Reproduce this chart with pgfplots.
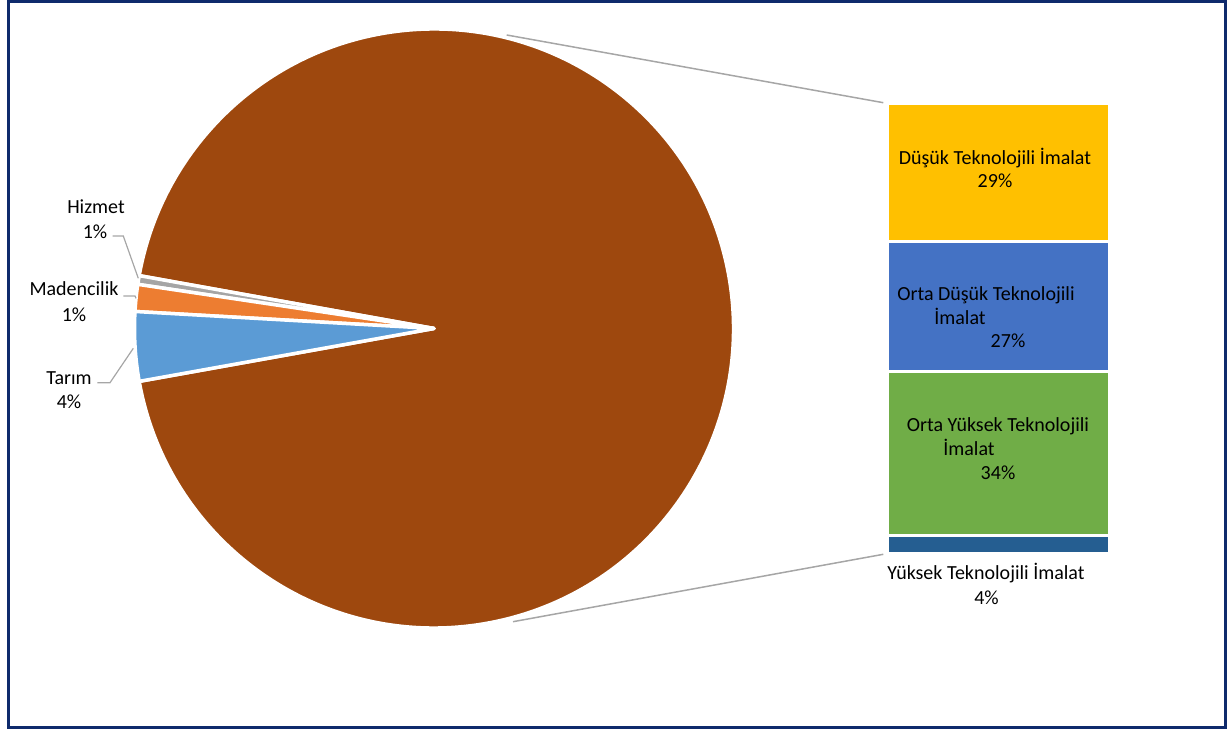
\documentclass[border=0pt]{standalone}
\usepackage{pgfplots}
\pgfplotsset{compat=1.18}
\usepackage{pgfplotstable}
\usepackage{fontspec}
\setmainfont{Carlito}
\definecolor{cImalat}{HTML}{9E480E}
\definecolor{cHizmet}{HTML}{A5A5A5}
\definecolor{cMaden}{HTML}{ED7D31}
\definecolor{cTarim}{HTML}{5B9BD5}
\definecolor{cDusuk}{HTML}{FFC000}
\definecolor{cOrtaDusuk}{HTML}{4472C4}
\definecolor{cOrtaYuksek}{HTML}{70AD47}
\definecolor{cYuksek}{HTML}{255E91}
\definecolor{cFrame}{HTML}{0E2A6C}
\definecolor{cLine}{HTML}{A6A6A6}

\pgfplotstableread{
sector value
Imalat 94.35
Hizmet 0.47
Madencilik 1.45
Tarim 3.73
}\piedata
\pgfplotstableread{
x Yuksek OrtaYuksek OrtaDusuk Dusuk
0.5 3.7 34.4 27.2 29.0
}\bardata

\newcommand\lblfont{\fontsize{20}{24}\selectfont}

\begin{document}%
\begin{tikzpicture}[x=1pt,y=1pt]
\pgfplotstablegetelem{0}{value}\of\piedata\let\vImalat\pgfplotsretval
\pgfplotstablegetelem{1}{value}\of\piedata\let\vHizmet\pgfplotsretval
\pgfplotstablegetelem{2}{value}\of\piedata\let\vMaden\pgfplotsretval
\pgfplotstablegetelem{3}{value}\of\piedata\let\vTarim\pgfplotsretval
\pgfmathsetmacro\aA{-1.8*\vImalat}
\pgfmathsetmacro\aB{1.8*\vImalat}
\pgfmathsetmacro\aC{\aB+3.6*\vHizmet}
\pgfmathsetmacro\aD{\aC+3.6*\vMaden}
\pgfmathsetmacro\aE{\aD+3.6*\vTarim}
\begin{axis}[at={(0,0)}, anchor=south west, scale only axis,
  width=1227pt, height=731pt, xmin=0, xmax=1227, ymin=0, ymax=731,
  hide axis, clip=false]
% frame
\draw[cFrame, line width=2.7pt] (axis cs:8.7,3.2) rectangle (axis cs:1225.3,729.2);
% pie slices
\filldraw[fill=cImalat, draw=white, line width=3.5pt, line join=round]
  (axis cs:434,402.5) -- ++(\aA:299.5pt) arc[start angle=\aA, end angle=\aB, radius=299.5pt] -- cycle;
\filldraw[fill=cHizmet, draw=white, line width=3.5pt, line join=round]
  (axis cs:434,402.5) -- ++(\aB:299.5pt) arc[start angle=\aB, end angle=\aC, radius=299.5pt] -- cycle;
\filldraw[fill=cMaden, draw=white, line width=3.5pt, line join=round]
  (axis cs:434,402.5) -- ++(\aC:299.5pt) arc[start angle=\aC, end angle=\aD, radius=299.5pt] -- cycle;
\filldraw[fill=cTarim, draw=white, line width=3.5pt, line join=round]
  (axis cs:434,402.5) -- ++(\aD:299.5pt) arc[start angle=\aD, end angle=\aE, radius=299.5pt] -- cycle;
% connector lines
\draw[cLine, line width=1.5pt] (axis cs:506.7,696) -- (axis cs:883.3,628.3);
\draw[cLine, line width=1.5pt] (axis cs:513,109.3) -- (axis cs:883.3,176.7);
% leader lines
\draw[cLine, line width=1.2pt] (axis cs:112.7,495) -- (axis cs:123.3,495) -- (axis cs:138.3,452.7);
\draw[cLine, line width=1.2pt] (axis cs:123.3,435) -- (axis cs:135,435) -- (axis cs:136,432.7);
\draw[cLine, line width=1.2pt] (axis cs:97.3,348.3) -- (axis cs:110,348.3) -- (axis cs:133.3,382.7);
% pie labels
\begin{scope}[every node/.style={anchor=base, inner sep=0pt, font=\lblfont, text=black}]
\node at (axis cs:96,517.5) {Hizmet};
\node at (axis cs:95,492.5) {1\%};
\node at (axis cs:74,435.5) {Madencilik};
\node at (axis cs:74,409.5) {1\%};
\node at (axis cs:69,346.5) {Tarım};
\node at (axis cs:69,322.5) {4\%};
\end{scope}
\end{axis}
\begin{axis}[at={(887pt,177.5pt)}, anchor=south west, scale only axis,
  width=222pt, height=450pt, xmin=0, xmax=1, ymin=0, ymax=94.3,
  hide axis, ybar stacked, bar width=222pt, clip=false]
\addplot[fill=cYuksek, draw=white, line width=3pt] table[x=x,y=Yuksek]{\bardata};
\addplot[fill=cOrtaYuksek, draw=white, line width=3pt] table[x=x,y=OrtaYuksek]{\bardata};
\addplot[fill=cOrtaDusuk, draw=white, line width=3pt] table[x=x,y=OrtaDusuk]{\bardata};
\addplot[fill=cDusuk, draw=white, line width=3pt] table[x=x,y=Dusuk]{\bardata};
\end{axis}
\begin{scope}[every node/.style={anchor=base, inner sep=0pt, font=\lblfont, text=black}]
\node at (995,566.5) {Düşük Teknolojili İmalat};
\node at (995,543.5) {29\%};
\node at (986,430.5) {Orta Düşük Teknolojili};
\node at (960,406.5) {İmalat};
\node at (1008,383.5) {27\%};
\node at (998,299.5) {Orta Yüksek Teknolojili};
\node at (969,275.5) {İmalat};
\node at (998,251.5) {34\%};
\node at (986,151.5) {Yüksek Teknolojili İmalat};
\node at (986.5,126.5) {4\%};
\end{scope}
\pgfresetboundingbox
\useasboundingbox (0,0) rectangle (1227,731);
\end{tikzpicture}%
\end{document}
